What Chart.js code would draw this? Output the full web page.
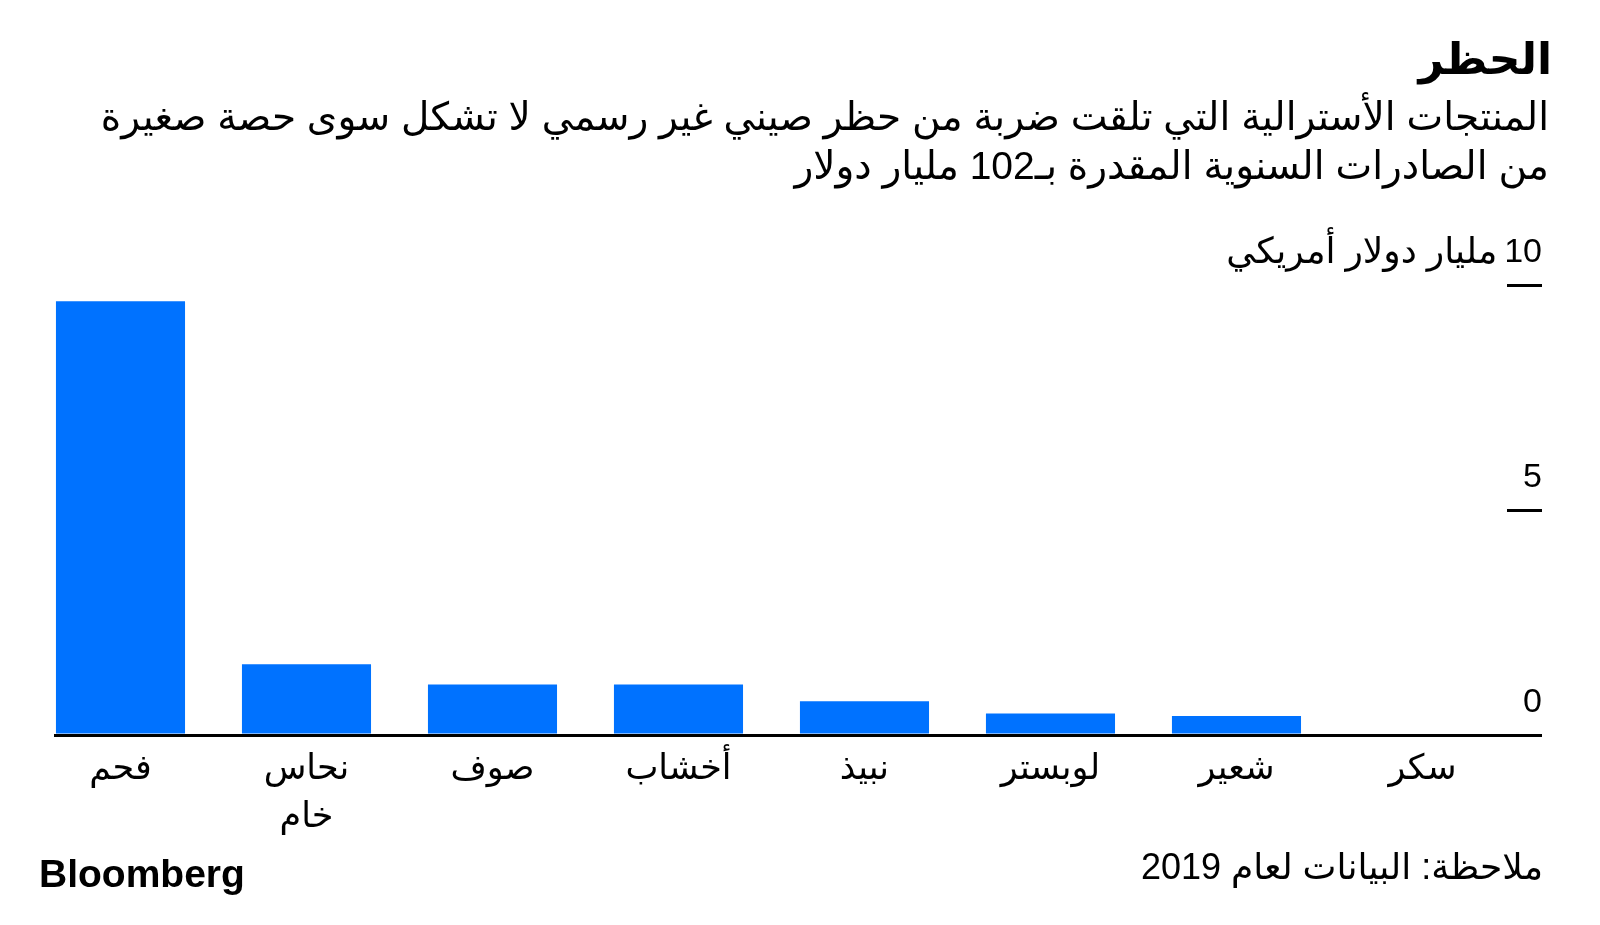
<!DOCTYPE html>
<html lang="ar">
<head>
<meta charset="utf-8">
<script src="https://cdn.jsdelivr.net/npm/chart.js@4/dist/chart.umd.min.js"></script>
<style>
  body { margin: 0; background: #fff; }
  #wrap { position: relative; width: 1600px; height: 925px; overflow: hidden; }
  #c { position: absolute; left: 0; top: 0; }
  .txt { position: absolute; direction: rtl; color: #000; white-space: nowrap;
         font-family: "Liberation Sans", "DejaVu Sans", sans-serif; }
  .title { right: 48px; top: 37px; font-size: 44px; font-weight: bold; line-height: 1; }
  .sub { right: 51px; top: 92px; font-size: 39px; line-height: 49px; }
  .note { right: 57px; top: 849px; font-size: 36px; line-height: 1; }
  .logo { left: 39px; top: 854px; direction: ltr; font-size: 39px; font-weight: bold;
          letter-spacing: 0; line-height: 1; }
</style>
</head>
<body>
<div id="wrap">
  <canvas id="c" width="1600" height="925"></canvas>
  <div class="txt title">الحظر</div>
  <div class="txt sub">المنتجات الأسترالية التي تلقت ضربة من حظر صيني غير رسمي لا تشكل سوى حصة صغيرة<br>من الصادرات السنوية المقدرة بـ102 مليار دولار</div>
  <div class="txt note">ملاحظة: البيانات لعام 2019</div>
  <div class="txt logo">Bloomberg</div>
</div>
<script>
// الفئات والقيم (مليار دولار أمريكي)
const categories = ['فحم', ['نحاس', 'خام'], 'صوف', 'أخشاب', 'نبيذ', 'لوبستر', 'شعير', 'سكر'];
const values = [9.64, 1.57, 1.12, 1.12, 0.75, 0.48, 0.42, 0];
const yTicks = [0, 5, 10];
const unitLabel = 'مليار دولار أمريكي';

const fontStack = '"Liberation Sans", "DejaVu Sans", sans-serif';

// وحدة المحور بجانب أعلى قيمة
const unitPlugin = {
  id: 'unit',
  afterDraw(chart) {
    const y = chart.scales.y;
    const c = chart.ctx;
    const py = y.getPixelForValue(yTicks[yTicks.length - 1]) - 32;
    c.save();
    c.font = '34px ' + fontStack;
    const w = c.measureText(String(yTicks[yTicks.length - 1])).width;
    c.font = '36px ' + fontStack;
    c.direction = 'rtl';
    c.textAlign = 'right';
    c.textBaseline = 'middle';
    c.fillStyle = '#000';
    c.fillText(unitLabel, y.right - w - 7, py);
    c.restore();
  }
};

const ctx = document.getElementById('c').getContext('2d');
new Chart(ctx, {
  type: 'bar',
  data: {
    datasets: [{
      data: values.map((v, i) => ({ x: i, y: v })),
      backgroundColor: '#0072ff',
      borderWidth: 0,
      categoryPercentage: 1,
      barPercentage: 0.694
    }]
  },
  options: {
    responsive: false,
    devicePixelRatio: 1,
    animation: false,
    layout: { padding: { left: 54, right: 58, top: 285, bottom: 80 } },
    plugins: { legend: { display: false }, tooltip: { enabled: false } },
    scales: {
      x: {
        type: 'linear',
        offset: false,
        min: -0.3575,
        max: 7.4544,
        afterBuildTicks: s => { s.ticks = categories.map((c, i) => ({ value: i })); },
        afterFit: s => { s.height = 110; },
        grid: { display: false },
        border: { display: false },
        ticks: {
          autoSkip: false,
          maxRotation: 0,
          minRotation: 0,
          padding: 3,
          color: '#000',
          font: { family: fontStack, size: 35, lineHeight: 1.35 },
          callback: (v, i) => categories[i]
        }
      },
      y: {
        position: 'right',
        min: 0,
        max: 10,
        z: 1,
        afterBuildTicks: s => { s.ticks = yTicks.map(v => ({ value: v })); },
        afterFit: s => { s.width = 35; },
        border: { display: false },
        grid: {
          drawOnChartArea: true,
          color: c => (c.tick && c.tick.value === 0 ? '#000' : 'rgba(0,0,0,0)'),
          tickColor: '#000',
          lineWidth: 3,
          tickLength: 35
        },
        ticks: {
          crossAlign: 'far',
          labelOffset: -32,
          color: '#000',
          font: { family: fontStack, size: 34 }
        }
      }
    }
  },
  plugins: [unitPlugin]
});
</script>
</body>
</html>
